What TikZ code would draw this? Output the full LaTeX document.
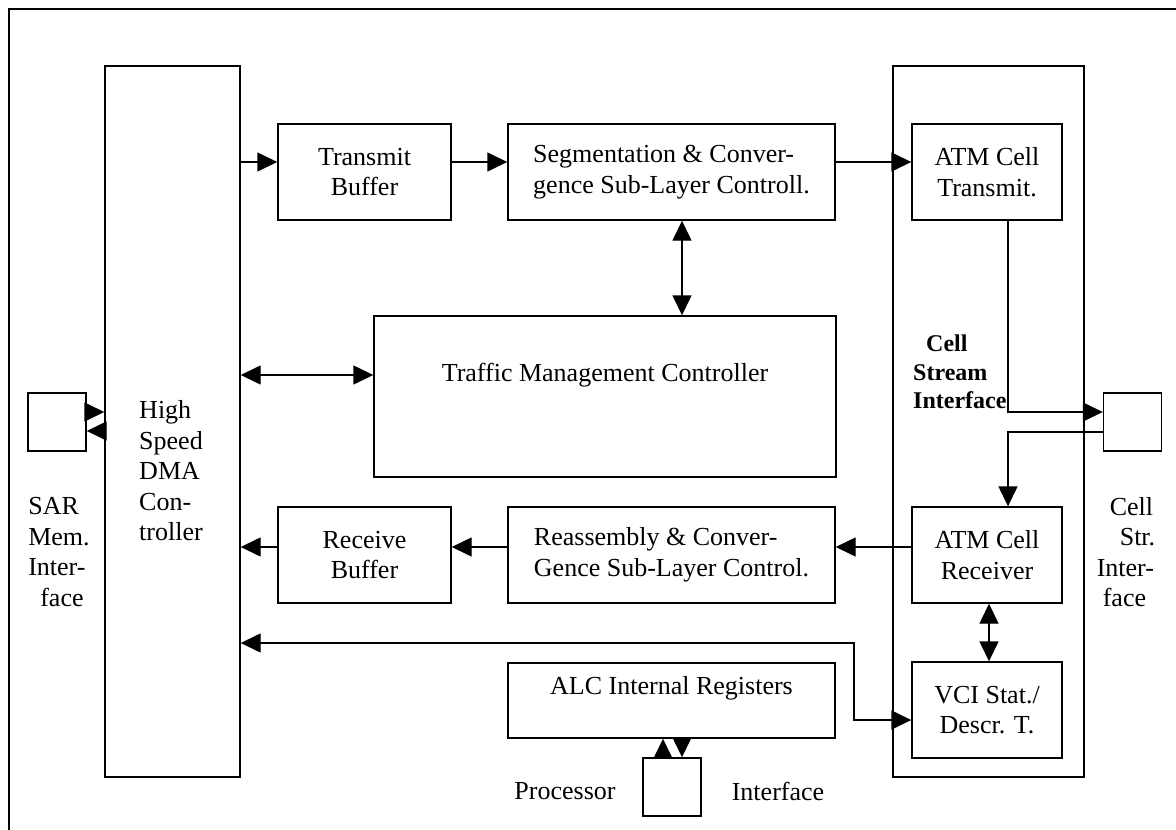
\documentclass[tikz,border=0pt]{standalone}
\usepackage{fontspec}
\setmainfont{Liberation Serif}
\usetikzlibrary{arrows.meta}
\newcommand\lblfont{\fontsize{26}{30.5}\selectfont}
\newcommand\boldlblfont{\fontsize{24}{28.5}\selectfont\bfseries}
\begin{document}
\begin{tikzpicture}[x=1pt,y=-1pt,
  blk/.style={draw,line width=1.4pt,rectangle,inner sep=0pt,align=center,font=\lblfont},
  port/.style={draw,line width=1.4pt,rectangle,inner sep=0pt,minimum size=58pt},
  txt/.style={inner sep=0pt,font=\lblfont},
  arr/.style={line width=1.4pt,-{Triangle[length=20pt,width=19pt]}},
  darr/.style={line width=1.4pt,{Triangle[length=20pt,width=19pt]}-{Triangle[length=20pt,width=19pt]}}]
\useasboundingbox (0,0) rectangle (1176,830);
% outer frame
\draw[line width=1.4pt] (9,830) -- (9,9) -- (1176,9);

% cell stream interface enclosure
\node[blk,line width=2.6pt,minimum width=191pt,minimum height=711pt] (csi) at (988.5,421.5) {};
\node[txt,font=\boldlblfont,align=left,anchor=west] (csitxt) at (913,372)
  {\hspace*{13pt}Cell\\Stream\\Interface};

% blocks
\node[blk,minimum width=135pt,minimum height=711pt] (dma) at (172.5,421.5) {};
\node[txt,align=left] (dmatxt) at (171,471) {High\\Speed\\DMA\\Con-\\troller};
\node[blk,minimum width=173pt,minimum height=96pt] (txbuf) at (364.5,172) {Transmit\\Buffer};
\node[blk,align=left,minimum width=327pt,minimum height=96pt] (seg) at (671.5,172)
  {Segmentation \& Conver-\\gence Sub-Layer Controll.};
\node[blk,minimum width=150pt,minimum height=96pt] (atmtx) at (987,172) {ATM Cell\\Transmit.};
\node[blk,minimum width=462pt,minimum height=161pt] (tmc) at (605,396.5) {};
\node[txt] (tmctxt) at (605,375) {Traffic Management Controller};
\node[blk,minimum width=173pt,minimum height=96pt] (rxbuf) at (364.5,555) {Receive\\Buffer};
\node[blk,align=left,minimum width=327pt,minimum height=96pt] (reas) at (671.5,555)
  {Reassembly \& Conver-\\Gence Sub-Layer Control.};
\node[blk,minimum width=150pt,minimum height=96pt] (atmrx) at (987,555) {ATM Cell\\Receiver};
\node[blk,minimum width=150pt,minimum height=96pt] (vci) at (987,710) {VCI Stat./\\Descr. T.};
\node[blk,minimum width=327pt,minimum height=75pt] (alc) at (671.5,700.5) {};
\node[txt] (alctxt) at (671.5,688) {ALC Internal Registers};

% external ports
\node[port] (sar) at (57,422) {};
\node[port] (cs) at (1132.5,422) {};
\node[port] (proc) at (672,787) {};
\node[txt,align=left] (sartxt) at (59,552) {SAR\\Mem.\\Inter-\\\hspace*{12pt}face};
\node[txt,align=left] (cstxt) at (1126,552)
  {\hspace*{13pt}Cell\\\hspace*{23pt}Str.\\Inter-\\\hspace*{6pt}face};
\node[txt] (proctxt) at (565,791) {Processor};
\node[txt] (pintxt) at (778,791) {Interface};

% transmit path
\coordinate (t1) at ([yshift=10pt]txbuf.west);
\draw[arr] (t1 -| dma.east) -- (t1);
\coordinate (t2) at ([yshift=10pt]seg.west);
\draw[arr] (t2 -| txbuf.east) -- (t2);
\coordinate (t3) at ([yshift=10pt]atmtx.west);
\draw[arr] (t3 -| seg.east) -- (t3);

% traffic management links
\coordinate (m1) at ([xshift=10.5pt]seg.south);
\draw[darr] (m1) -- (m1 |- tmc.north);
\coordinate (m2) at ([yshift=21.5pt]tmc.west);
\draw[darr] (m2 -| dma.east) -- (m2);

% cell stream port
\coordinate (c1) at ([xshift=21pt]atmtx.south);
\coordinate (c2) at ([yshift=10pt]cs.west);
\draw[arr] (c1) |- (c2);
\coordinate (c3) at ([yshift=-10pt]cs.west);
\draw[arr] (c3) -| (c1 |- atmrx.north);

% receive path
\coordinate (r1) at ([yshift=8pt]atmrx.west);
\draw[arr] (r1) -- (r1 -| reas.east);
\draw[arr] (r1 -| reas.west) -- (r1 -| rxbuf.east);
\draw[arr] (r1 -| rxbuf.west) -- (r1 -| dma.east);

% VCI table links
\draw[darr] ([xshift=2pt]atmrx.south) -- ([xshift=2pt]vci.north);
\coordinate (v1) at ([yshift=-10pt]vci.west);
\coordinate (v2) at (854,643);
\draw[darr] (v2 -| dma.east) -- (v2) |- (v1);

% memory port
\coordinate (s1) at ([yshift=10pt]sar.east);
\draw[arr] (s1) -- (s1 -| dma.west);
\coordinate (s2) at ([yshift=-9pt]sar.east);
\draw[arr] (s2 -| dma.west) -- (s2);

% processor port
\coordinate (p1) at ([xshift=-9pt]proc.north);
\draw[arr] (p1) -- (p1 |- alc.south);
\coordinate (p2) at ([xshift=10pt]proc.north);
\draw[arr] (p2 |- alc.south) -- (p2);
\end{tikzpicture}
\end{document}
